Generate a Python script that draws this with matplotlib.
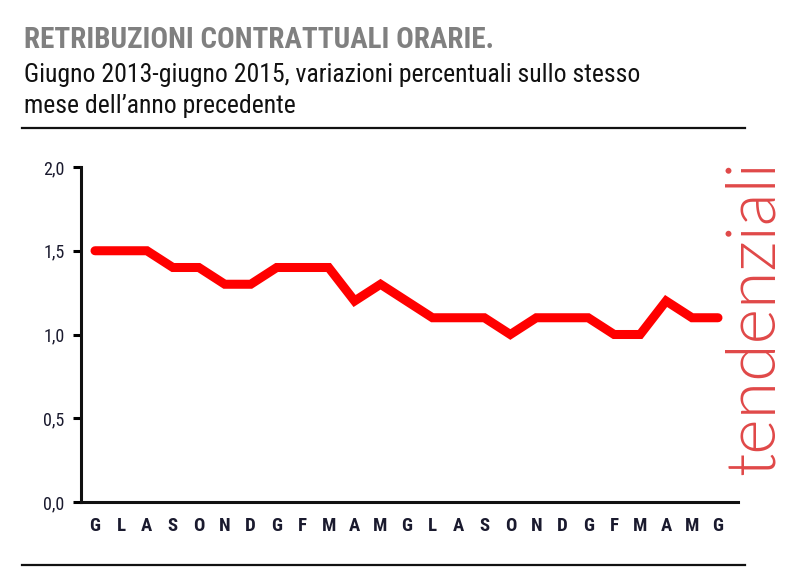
import matplotlib
matplotlib.use("Agg")
import matplotlib.pyplot as plt
from matplotlib import font_manager as fm
from matplotlib.lines import Line2D

months = ["G", "L", "A", "S", "O", "N", "D", "G", "F", "M", "A", "M",
          "G", "L", "A", "S", "O", "N", "D", "G", "F", "M", "A", "M", "G"]
values = [1.5, 1.5, 1.5, 1.4, 1.4, 1.3, 1.3, 1.4, 1.4, 1.4, 1.2, 1.3,
          1.2, 1.1, 1.1, 1.1, 1.0, 1.1, 1.1, 1.1, 1.0, 1.0, 1.2, 1.1, 1.1]
yticks = [0.0, 0.5, 1.0, 1.5, 2.0]
ytick_labels = ["0,0", "0,5", "1,0", "1,5", "2,0"]

fonts = fm.fontManager.ttflist
names = {f.name for f in fonts}
narrow = "DejaVu Sans"
for cand in ["Liberation Sans Narrow", "Arial Narrow", "Roboto Condensed",
             "Archivo Narrow", "PT Sans Narrow", "Sofia Sans Condensed"]:
    if cand in names:
        narrow = cand
        break


def pick(family, weight):
    best = None
    for f in fonts:
        if f.name == family and f.style == "normal":
            try:
                w = int(f.weight)
            except Exception:
                continue
            d = abs(w - weight)
            if best is None or d < best[0]:
                best = (d, f.fname)
    if best is None:
        return fm.FontProperties(family="DejaVu Sans")
    return fm.FontProperties(fname=best[1])


thin = pick("Lato", 300) if "Lato" in names else pick("Open Sans", 300)

W, H = 800, 568
fig = plt.figure(figsize=(W / 100, H / 100), dpi=100)

x0, x1 = 81, 738
y0, y1 = 502, 167
ax = fig.add_axes([x0 / W, (H - y0) / H, (x1 - x0) / W, (y0 - y1) / H])

xs = list(range(len(values)))
ax.plot(xs, values, color="#ff0000", lw=6.5, solid_capstyle="round",
        solid_joinstyle="miter", zorder=3)

step = (718 - 95) / 24
ax.set_xlim(-(95 - x0) / step, 24 + (x1 - 718) / step)
ax.set_ylim(0, 2.0)

for s in ["top", "right"]:
    ax.spines[s].set_visible(False)
for s in ["left", "bottom"]:
    ax.spines[s].set_linewidth(2.2)
    ax.spines[s].set_color("#111111")

ax.set_yticks(yticks)
ax.set_yticklabels(ytick_labels, fontsize=13, family=narrow, color="#1a1a2e")
ax.tick_params(axis="y", direction="out", length=6, width=2.2, pad=6)
ax.set_xticks(xs)
ax.set_xticklabels(months, fontsize=13.5, family=narrow, fontweight="bold",
                   color="#1a1a2e")
ax.tick_params(axis="x", length=0, pad=11)

# titles
fig.text(24 / W, 1 - 40 / H, "RETRIBUZIONI CONTRATTUALI ORARIE.", fontsize=21,
         family=narrow, fontweight="bold", color="#808080", va="center", ha="left")
fig.text(24 / W, 1 - 75 / H, "Giugno 2013-giugno 2015, variazioni percentuali sullo stesso",
         fontsize=18.5, family=narrow, color="#111111", va="center", ha="left")
fig.text(24 / W, 1 - 106 / H, "mese dell\u2019anno precedente",
         fontsize=18.5, family=narrow, color="#111111", va="center", ha="left")

# horizontal rules
fig.add_artist(Line2D([22 / W, 745 / W], [1 - 128 / H, 1 - 128 / H],
                      color="#111111", lw=1.6, transform=fig.transFigure))
fig.add_artist(Line2D([22 / W, 745 / W], [1 - 565 / H, 1 - 565 / H],
                      color="#111111", lw=1.6, transform=fig.transFigure))

# vertical side label
thin.set_size(49)
fig.text(755 / W, 1 - 318 / H, "tendenziali", rotation=90, fontproperties=thin,
         color="#e04848", va="center", ha="center")

fig.savefig("out.png", dpi=100)
